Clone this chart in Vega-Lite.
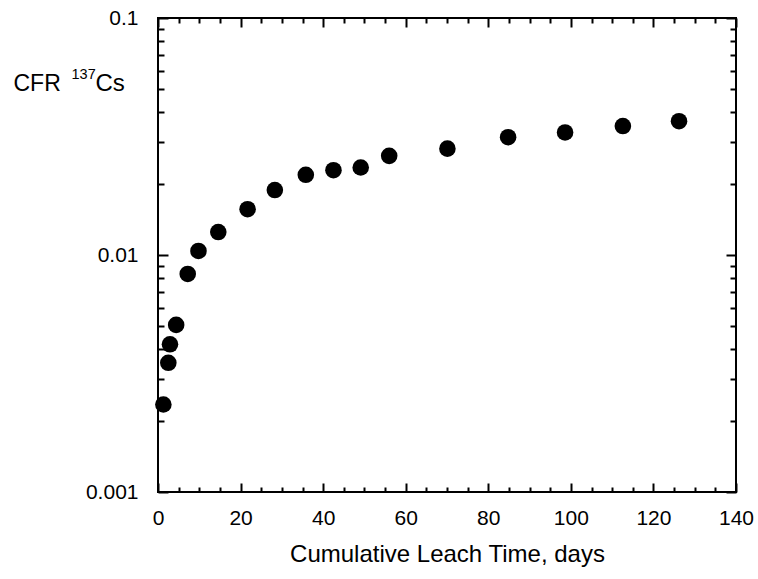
{
  "$schema": "https://vega.github.io/schema/vega-lite/v6.json",
  "width": 578,
  "height": 474,
  "autosize": {"type": "none"},
  "padding": {"left": 158, "top": 18, "right": 22, "bottom": 87},
  "background": "white",
  "config": {
    "view": {"stroke": "black", "strokeWidth": 2},
    "font": "Liberation Sans",
    "axis": {
      "grid": false,
      "domain": false,
      "tickColor": "black",
      "tickWidth": 2,
      "labelColor": "black",
      "titleColor": "black",
      "labelFont": "Liberation Sans",
      "titleFont": "Liberation Sans",
      "labelFontSize": 21,
      "titleFontSize": 24,
      "titleFontWeight": "normal"
    }
  },
  "data": {
    "values": [
      {"day": 1.3, "cfr": 0.00234},
      {"day": 2.5, "cfr": 0.00351},
      {"day": 2.9, "cfr": 0.0042},
      {"day": 4.4, "cfr": 0.00507},
      {"day": 7.2, "cfr": 0.00832},
      {"day": 9.8, "cfr": 0.0104},
      {"day": 14.6, "cfr": 0.0125},
      {"day": 21.7, "cfr": 0.0156},
      {"day": 28.3, "cfr": 0.0188},
      {"day": 35.8, "cfr": 0.0218},
      {"day": 42.5, "cfr": 0.0228},
      {"day": 49.1, "cfr": 0.0234},
      {"day": 56.0, "cfr": 0.0262},
      {"day": 70.1, "cfr": 0.0281},
      {"day": 84.8, "cfr": 0.0314},
      {"day": 98.6, "cfr": 0.0329},
      {"day": 112.6, "cfr": 0.035},
      {"day": 126.2, "cfr": 0.0367}
    ]
  },
  "resolve": {"axis": {"x": "independent", "y": "independent"}},
  "layer": [
    {
      "mark": {"type": "circle", "size": 275, "color": "black", "opacity": 1},
      "encoding": {
        "x": {
          "field": "day", "type": "quantitative",
          "scale": {"domain": [0, 140], "nice": false, "zero": false},
          "axis": {
            "orient": "bottom",
            "values": [0, 20, 40, 60, 80, 100, 120, 140],
            "tickSize": -9,
            "labelPadding": 24,
            "labelFlush": false,
            "title": "Cumulative Leach Time, days",
            "titlePadding": 14
          }
        },
        "y": {
          "field": "cfr", "type": "quantitative",
          "scale": {"type": "log", "domain": [0.001, 0.1], "nice": false},
          "axis": {
            "orient": "left",
            "values": [0.001, 0.01, 0.1],
            "format": "~g",
            "tickSize": -10,
            "labelPadding": 30,
            "labelFlush": false,
            "title": "CFR",
            "titleFontSize": 23,
            "titleAngle": 0,
            "titleAlign": "left",
            "titleBaseline": "middle",
            "titleX": -145,
            "titleY": 65
          }
        }
      }
    },
    {
      "mark": {"type": "circle", "opacity": 0},
      "encoding": {
        "x": {
          "field": "day", "type": "quantitative",
          "axis": {
            "orient": "bottom",
            "values": [5, 10, 15, 25, 30, 35, 45, 50, 55, 65, 70, 75, 85, 90, 95, 105, 110, 115, 125, 130, 135],
            "tickSize": -5, "labels": false, "title": null
          }
        },
        "y": {
          "field": "cfr", "type": "quantitative",
          "axis": {
            "orient": "left",
            "values": [0.002, 0.003, 0.004, 0.005, 0.006, 0.007, 0.008, 0.009, 0.02, 0.03, 0.04, 0.05, 0.06, 0.07, 0.08, 0.09],
            "tickSize": -6, "labels": false,
            "title": "137",
            "titleFontSize": 14.5,
            "titleAngle": 0,
            "titleAlign": "left",
            "titleBaseline": "middle",
            "titleX": -87,
            "titleY": 56.5
          }
        }
      }
    },
    {
      "mark": {"type": "circle", "opacity": 0},
      "encoding": {
        "x": {
          "field": "day", "type": "quantitative",
          "axis": {
            "orient": "top",
            "values": [0, 20, 40, 60, 80, 100, 120, 140],
            "tickSize": -9, "labels": false, "title": null
          }
        },
        "y": {
          "field": "cfr", "type": "quantitative",
          "axis": {
            "orient": "right",
            "values": [0.001, 0.01, 0.1],
            "tickSize": -10, "labels": false,
            "title": "Cs",
            "titleFontSize": 24,
            "titleAngle": 0,
            "titleAlign": "left",
            "titleBaseline": "middle",
            "titleX": -641,
            "titleY": 65
          }
        }
      }
    },
    {
      "mark": {"type": "circle", "opacity": 0},
      "encoding": {
        "x": {
          "field": "day", "type": "quantitative",
          "axis": {
            "orient": "top",
            "values": [5, 10, 15, 25, 30, 35, 45, 50, 55, 65, 70, 75, 85, 90, 95, 105, 110, 115, 125, 130, 135],
            "tickSize": -5, "labels": false, "title": null
          }
        },
        "y": {
          "field": "cfr", "type": "quantitative",
          "axis": {
            "orient": "right",
            "values": [0.002, 0.003, 0.004, 0.005, 0.006, 0.007, 0.008, 0.009, 0.02, 0.03, 0.04, 0.05, 0.06, 0.07, 0.08, 0.09],
            "tickSize": -6, "labels": false, "title": null
          }
        }
      }
    }
  ]
}
